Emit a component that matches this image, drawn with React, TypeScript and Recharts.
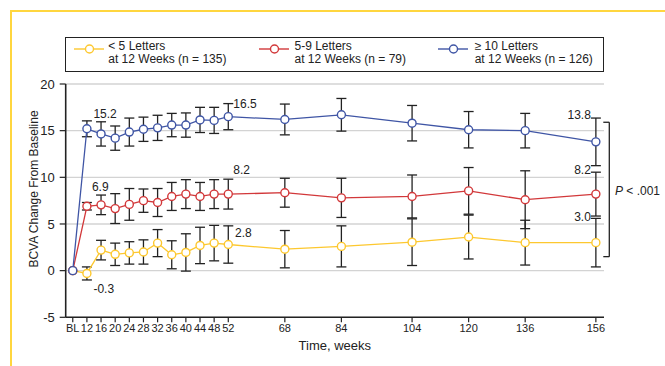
import {
  LineChart,
  Line,
  XAxis,
  YAxis,
  CartesianGrid,
  ErrorBar,
  ReferenceLine,
} from 'recharts'

// BL is drawn 4 weeks before week 12, as in the original figure
const WEEK_POS = [8, 12, 16, 20, 24, 28, 32, 36, 40, 44, 48, 52, 68, 84, 104, 120, 136, 156]
const TICK_LABELS = ['BL', '12', '16', '20', '24', '28', '32', '36', '40', '44', '48', '52', '68', '84', '104', '120', '136', '156']

// mean BCVA change and error (half-width) per visit
const LT5 = [0, -0.3, 2.2, 1.75, 1.9, 2.0, 2.95, 1.7, 1.95, 2.7, 2.95, 2.8, 2.3, 2.6, 3.05, 3.6, 3.0, 3.0]
const LT5_ERR = [0, 0.7, 1.05, 1.2, 1.2, 1.3, 1.45, 1.5, 2.0, 1.95, 1.9, 2.0, 2.0, 2.2, 2.5, 2.35, 2.4, 2.6]
const MID = [0, 6.9, 7.05, 6.65, 7.1, 7.5, 7.3, 7.95, 8.2, 7.95, 8.2, 8.2, 8.35, 7.8, 7.95, 8.55, 7.6, 8.2]
const MID_ERR = [0, 0.4, 1.05, 1.6, 1.7, 1.25, 1.5, 1.5, 1.55, 1.5, 1.55, 1.6, 1.55, 2.1, 2.3, 2.5, 3.1, 2.35]
const HI = [0, 15.2, 14.65, 14.2, 14.85, 15.15, 15.3, 15.6, 15.6, 16.15, 16.1, 16.5, 16.2, 16.7, 15.8, 15.1, 15.0, 13.8]
const HI_ERR = [0, 0.85, 1.3, 1.3, 1.5, 1.3, 1.35, 1.25, 1.3, 1.35, 1.4, 1.4, 1.65, 1.75, 1.9, 1.95, 1.85, 2.55]

const Y_TICKS = [-5, 0, 5, 10, 15, 20]

const SERIES = [
  { key: 'lt5', color: '#FDC82F', line1: '< 5 Letters', line2: 'at 12 Weeks (n = 135)' },
  { key: 'mid', color: '#D2383A', line1: '5-9 Letters', line2: 'at 12 Weeks (n = 79)' },
  { key: 'hi', color: '#3F55A5', line1: '≥ 10 Letters', line2: 'at 12 Weeks (n = 126)' },
]

// value labels next to selected points
const VALUE_LABELS = [
  { key: 'hi', week: 12, text: '15.2', dx: 6.5, dy: -15, anchor: 'start' },
  { key: 'hi', week: 52, text: '16.5', dx: 5, dy: -12.5, anchor: 'start' },
  { key: 'hi', week: 156, text: '13.8', dx: -5, dy: -27, anchor: 'end' },
  { key: 'mid', week: 12, text: '6.9', dx: 5, dy: -19.5, anchor: 'start' },
  { key: 'mid', week: 52, text: '8.2', dx: 5, dy: -24, anchor: 'start' },
  { key: 'mid', week: 156, text: '8.2', dx: -5, dy: -24, anchor: 'end' },
  { key: 'lt5', week: 12, text: '-0.3', dx: 6.5, dy: 15.6, anchor: 'start' },
  { key: 'lt5', week: 52, text: '2.8', dx: 6.7, dy: -12, anchor: 'start' },
  { key: 'lt5', week: 156, text: '3.0', dx: -5, dy: -25.3, anchor: 'end' },
]

// significance bracket at the right edge (data units)
const BRACKET = { x: 159.8, tickX: 158.1, top: 15.9, bottom: 1.5 }

const data = WEEK_POS.map((week, i) => ({
  week,
  lt5: LT5[i],
  lt5Err: LT5_ERR[i],
  mid: MID[i],
  midErr: MID_ERR[i],
  hi: HI[i],
  hiErr: HI_ERR[i],
}))
// no error bar at baseline
const errData = data.slice(1)

const FONT = '"Liberation Sans", Arial, Helvetica, sans-serif'
const INK = '#222'

function makeDot(key: string, color: string) {
  return (props: any) => {
    const { cx, cy, index, payload } = props
    const lbl = VALUE_LABELS.find((l) => l.key === key && l.week === payload.week)
    return (
      <g key={`${key}-dot-${index}`}>
        <circle cx={cx} cy={cy} r={4} fill="#fff" stroke={color} strokeWidth={1.4} />
        {lbl && (
          <text
            x={cx + lbl.dx}
            y={cy + lbl.dy}
            textAnchor={lbl.anchor as any}
            dominantBaseline="central"
            fontSize={12}
            fill={INK}
          >
            {lbl.text}
          </text>
        )}
      </g>
    )
  }
}

function LegendBox() {
  const items = [
    { left: 73.3, textLeft: 107.3 },
    { left: 258, textLeft: 293.5 },
    { left: 437, textLeft: 473.7 },
  ]
  return (
    <div
      style={{
        position: 'absolute',
        left: 64.7,
        top: 36.7,
        width: 539.6,
        height: 35,
        boxSizing: 'border-box',
        border: `1.3px solid ${INK}`,
        fontSize: 12,
        color: INK,
      }}
    >
      {SERIES.map((s, i) => (
        <div key={s.key}>
          <svg
            width={30}
            height={10}
            style={{ position: 'absolute', left: items[i].left - 64.7, top: 6 }}
          >
            <line x1={0} y1={5} x2={30} y2={5} stroke={s.color} strokeWidth={1.4} />
            <circle cx={15.5} cy={5} r={4} fill="#fff" stroke={s.color} strokeWidth={1.4} />
          </svg>
          <div
            style={{
              position: 'absolute',
              left: items[i].textLeft - 64.7,
              top: 2,
              lineHeight: '13.4px',
              whiteSpace: 'nowrap',
            }}
          >
            {s.line1}
            <br />
            {s.line2}
          </div>
        </div>
      ))}
    </div>
  )
}

export default function App() {
  return (
    <div
      style={{
        position: 'absolute',
        left: 0,
        top: 0,
        width: 665,
        height: 366,
        background: '#fff',
        fontFamily: FONT,
        overflow: 'hidden',
      }}
    >
      {/* yellow frame */}
      <div
        style={{
          position: 'absolute',
          left: 10,
          top: 9.5,
          right: 0,
          bottom: 0,
          borderLeft: '2.5px solid #FFD63F',
          borderTop: '2.5px solid #FFD63F',
        }}
      />

      <LineChart
        width={665}
        height={366}
        data={data}
        margin={{ top: 84, right: 61, bottom: 18.7, left: 0 }}
        style={{ position: 'absolute', left: 0, top: 0 }}
      >
        <CartesianGrid vertical={false} stroke="#d3d3d3" strokeWidth={1.3} />
        <XAxis
          dataKey="week"
          type="number"
          domain={[6, 158.3]}
          ticks={WEEK_POS}
          interval={0}
          tickFormatter={(v: number) => TICK_LABELS[WEEK_POS.indexOf(v)]}
          height={30}
          tickSize={5}
          tickMargin={2}
          tick={{ fontSize: 11, fill: INK }}
          axisLine={{ stroke: INK, strokeWidth: 1.6 }}
          tickLine={{ stroke: INK, strokeWidth: 1.2 }}
        />
        <YAxis
          type="number"
          domain={[-5, 20]}
          ticks={Y_TICKS}
          interval={0}
          width={65.7}
          tickSize={6}
          tickMargin={5}
          tick={{ fontSize: 13, fill: INK }}
          axisLine={{ stroke: INK, strokeWidth: 1.6 }}
          tickLine={{ stroke: INK, strokeWidth: 1.2 }}
        />

        {/* error bars, drawn by invisible series without the baseline point */}
        {SERIES.map((s) => (
          <Line
            key={`${s.key}-err`}
            data={errData}
            dataKey={s.key}
            stroke="none"
            dot={false}
            activeDot={false}
            isAnimationActive={false}
          >
            <ErrorBar dataKey={`${s.key}Err`} width={5} stroke={INK} strokeWidth={1.3} />
          </Line>
        ))}

        {SERIES.map((s) => (
          <Line
            key={s.key}
            dataKey={s.key}
            stroke={s.color}
            strokeWidth={1.3}
            dot={makeDot(s.key, s.color)}
            activeDot={false}
            isAnimationActive={false}
          />
        ))}

        {/* P-value bracket */}
        <ReferenceLine
          segment={[{ x: BRACKET.x, y: BRACKET.top }, { x: BRACKET.x, y: BRACKET.bottom }]}
          ifOverflow="visible"
          stroke={INK}
          strokeWidth={1.3}
        />
        <ReferenceLine
          segment={[{ x: BRACKET.tickX, y: BRACKET.top }, { x: BRACKET.x, y: BRACKET.top }]}
          ifOverflow="visible"
          stroke={INK}
          strokeWidth={1.3}
        />
        <ReferenceLine
          segment={[{ x: BRACKET.tickX, y: BRACKET.bottom }, { x: BRACKET.x, y: BRACKET.bottom }]}
          ifOverflow="visible"
          stroke={INK}
          strokeWidth={1.3}
        />
      </LineChart>

      <LegendBox />

      {/* axis titles */}
      <div
        style={{
          position: 'absolute',
          left: 34,
          top: 188.5,
          transform: 'translate(-50%, -50%) rotate(-90deg)',
          whiteSpace: 'nowrap',
          fontSize: 12,
          color: INK,
        }}
      >
        BCVA Change From Baseline
      </div>
      <div
        style={{
          position: 'absolute',
          left: 334.8,
          top: 345,
          transform: 'translate(-50%, -50%)',
          whiteSpace: 'nowrap',
          fontSize: 13,
          color: INK,
        }}
      >
        Time, weeks
      </div>
      <div
        style={{
          position: 'absolute',
          left: 615,
          top: 190.7,
          transform: 'translateY(-50%)',
          whiteSpace: 'nowrap',
          fontSize: 12,
          color: INK,
        }}
      >
        <i>P</i> &lt; .001
      </div>
    </div>
  )
}
